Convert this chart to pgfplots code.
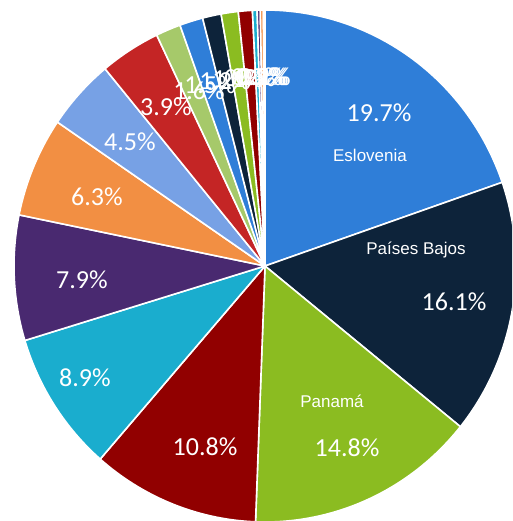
\documentclass[border=0pt]{standalone}
\usepackage{pgfplots}
\pgfplotsset{compat=1.18}
\usepackage{fontspec}
\setmainfont{Carlito}
\newfontfamily\arialf{Liberation Sans}
\definecolor{cA}{HTML}{2F7ED8}
\definecolor{cB}{HTML}{0D233A}
\definecolor{cC}{HTML}{8BBC21}
\definecolor{cD}{HTML}{910000}
\definecolor{cE}{HTML}{1AADCE}
\definecolor{cF}{HTML}{492970}
\definecolor{cG}{HTML}{F28F43}
\definecolor{cH}{HTML}{77A1E5}
\definecolor{cI}{HTML}{C42525}
\definecolor{cJ}{HTML}{A6C96A}
\def\cx{265}\def\cy{266}\def\rx{251}\def\ry{256}
\gdef\cum{0}
\newcommand\slice[2]{%
  \pgfmathsetmacro\sa{3.6*\cum}%
  \pgfmathsetmacro\sb{3.6*(\cum+#1)}%
  \pgfmathsetmacro\newcum{\cum+#1}%
  \xdef\cum{\newcum}%
  \edef\tmp{\noexpand\addplot[fill=#2,draw=white,line width=1.6pt,line join=round,domain=\sa:\sb,samples=80]
    ({\cx+\rx*sin(x)},{\cy-\ry*cos(x)}) -- (\cx,\cy) -- cycle;}%
  \tmp}
\newcommand\pct[3]{\node[text=white,font=\fontsize{26}{30}\selectfont] at (axis cs:#1,#2) {#3};}
\newcommand\nam[3]{\node[text=white,font=\arialf\fontsize{17}{20}\selectfont] at (axis cs:#1,#2) {#3};}
\begin{document}
\begin{tikzpicture}
\begin{axis}[hide axis, x=1pt, y=1pt, xmin=0, xmax=512, ymin=0, ymax=521,
  y dir=reverse, clip=true, axis line style={draw=none}]
\slice{19.7}{cA}
\slice{16.1}{cB}
\slice{14.8}{cC}
\slice{10.8}{cD}
\slice{8.9}{cE}
\slice{7.9}{cF}
\slice{6.3}{cG}
\slice{4.5}{cH}
\slice{3.9}{cI}
\slice{1.6}{cJ}
\slice{1.5}{cA}
\slice{1.2}{cB}
\slice{1.1}{cC}
\slice{0.9}{cD}
\slice{0.3}{cE}
\slice{0.2}{cF}
\slice{0.2}{cG}
\slice{0.1}{cH}
\pct{379}{113}{19.7\%}
\nam{370}{155}{Eslovenia}
\nam{416}{250}{Países Bajos}
\pct{454}{302}{16.1\%}
\nam{332}{401}{Panamá}
\pct{347}{448}{14.8\%}
\pct{205}{447}{10.8\%}
\pct{85}{378}{8.9\%}
\pct{82}{280}{7.9\%}
\pct{97}{197}{6.3\%}
\pct{130}{142}{4.5\%}
\pct{166}{107}{3.9\%}
\pct{199}{91}{1.6\%}
\pct{210}{85}{1.5\%}
\pct{225}{81}{1.2\%}
\pct{238}{79}{1.1\%}
\pct{250}{78}{0.9\%}
\pct{257}{77}{0.3\%}
\pct{261}{77}{0.2\%}
\pct{263}{77}{0.2\%}
\pct{265}{77}{0.1\%}
\end{axis}
\pgfresetboundingbox
\path (current axis.south west) rectangle (current axis.north east);
\end{tikzpicture}
\end{document}
